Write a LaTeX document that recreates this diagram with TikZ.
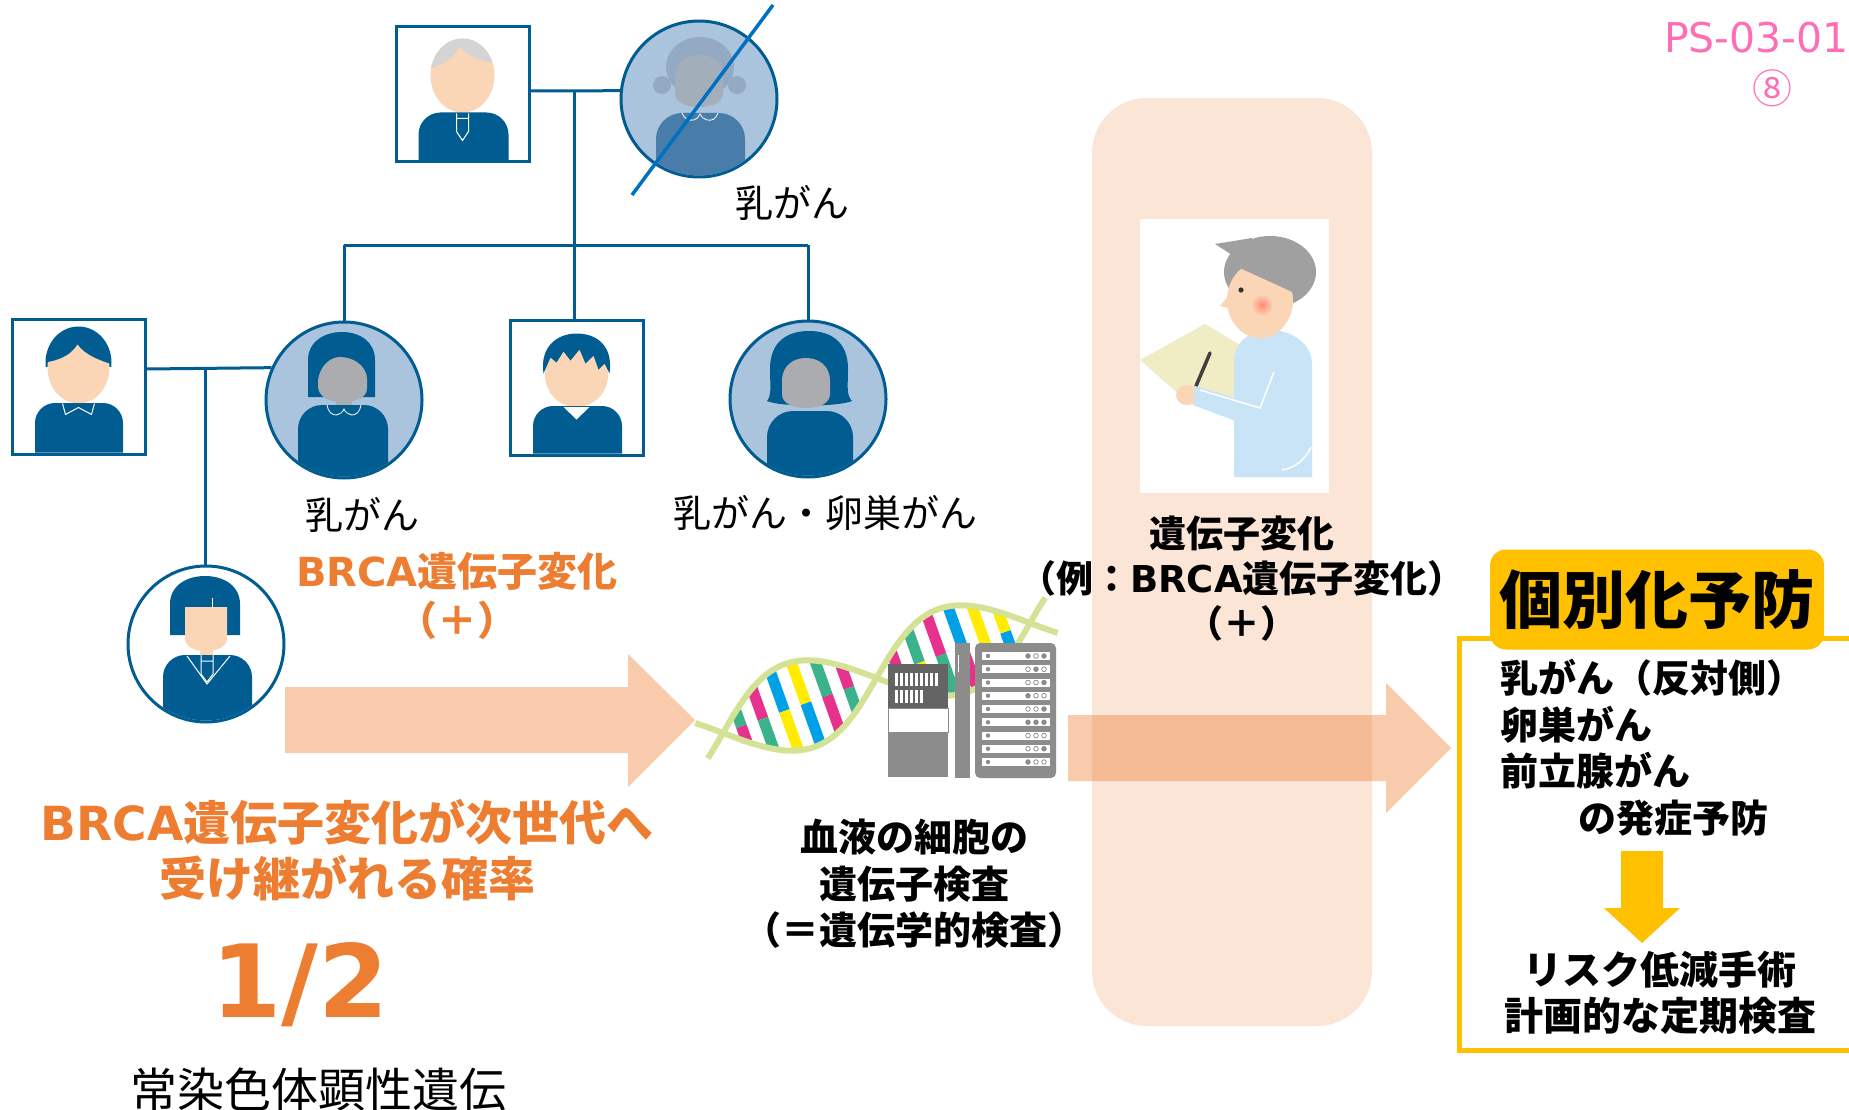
\documentclass[tikz,border=0pt]{standalone}
\usepackage{fontspec}
\setmainfont{Noto Sans CJK JP}
\newfontfamily\latinfont{DejaVu Sans}
\usetikzlibrary{calc}

\definecolor{icon}{RGB}{0,92,145}
\definecolor{ringfill}{RGB}{170,196,222}
\definecolor{skin}{RGB}{250,214,182}
\definecolor{face}{RGB}{170,172,176}
\definecolor{silver}{RGB}{212,212,212}
\definecolor{gmhair}{RGB}{148,170,195}
\definecolor{gmface}{RGB}{163,174,187}
\definecolor{gmbody}{RGB}{72,125,170}
\definecolor{accent}{RGB}{237,125,49}
\definecolor{peach}{RGB}{251,229,214}
\definecolor{gold}{RGB}{255,192,0}
\definecolor{pinktxt}{RGB}{255,110,180}
\definecolor{crossblue}{RGB}{0,112,192}
\definecolor{strand}{RGB}{212,226,150}
\definecolor{dnaM}{RGB}{230,50,140}
\definecolor{dnaG}{RGB}{60,178,140}
\definecolor{dnaB}{RGB}{0,160,230}
\definecolor{dnaY}{RGB}{255,236,0}
\definecolor{rack}{RGB}{140,140,140}
\definecolor{rackdk}{RGB}{100,100,100}
\definecolor{coat}{RGB}{200,228,246}
\definecolor{drhair}{RGB}{160,160,160}
\definecolor{board}{RGB}{240,236,196}

% rounded-shoulder torso: colour, left x, right x, top y, bottom y, corner radius
\newcommand\torso[6]{%
  \fill[#1] (#2,#5) -- (#2,#4+#6)
    .. controls (#2,#4+0.45*#6) and (#2+0.45*#6,#4) .. (#2+#6,#4)
    -- (#3-#6,#4)
    .. controls (#3-0.45*#6,#4) and (#3,#4+0.45*#6) .. (#3,#4+#6)
    -- (#3,#5) -- cycle;}

\newcommand\iconGrandpa{%
  \fill[skin] (0,-19) ellipse [x radius=32pt, y radius=37pt];
  \begin{scope}
    \clip (0,-19) ellipse [x radius=32pt, y radius=37pt];
    \fill[silver] (-40,-70) -- (-40,-25) .. controls (-22,-27) and (-8,-36) .. (-3,-48)
      .. controls (6,-38) and (20,-32) .. (40,-31) -- (40,-70) -- cycle;
  \end{scope}
  \torso{icon}{-44}{46}{18}{66}{22}
  \draw[white, line width=1] (-6,19) -- (-6,37) -- (0,46) -- (6,37) -- (6,19) (-6,24) -- (6,24);
}

\newcommand\iconHusband{%
  \begin{scope}
    \clip (-40,-70) rectangle (40,-20);
    \fill[icon] (0,-24) ellipse [x radius=33pt, y radius=36pt];
  \end{scope}
  \begin{scope}
    \clip (-40,-23) .. controls (-22,-25) and (-8,-30) .. (-1,-42)
      .. controls (6,-32) and (20,-26) .. (40,-20) -- (40,40) -- (-40,40) -- cycle;
    \fill[skin] (0,-19) ellipse [x radius=31pt, y radius=36pt];
  \end{scope}
  \torso{icon}{-43.5}{44.5}{16.5}{66}{20}
  \draw[white, line width=1] (-16,17) -- (-13,28) -- (0,21) -- (13,28) -- (16,17);
}

\newcommand\iconBrother{%
  \fill[skin] (0,-12.5) ellipse [x radius=31.5pt, y radius=32pt];
  \fill[icon] (-33,-14) .. controls (-37,-42) and (-18,-54) .. (0,-54)
    .. controls (20,-54) and (37,-42) .. (33,-14) -- (28,-24) -- (22,-18) -- (17,-32)
    -- (9,-24) -- (3,-38) -- (-6,-27) -- (-13,-36) -- (-20,-25) -- (-26,-30) -- cycle;
  \torso{icon}{-43.5}{45.5}{18.5}{66}{20}
  \fill[white] (-13,19.5) -- (0,32) -- (13,19.5) -- cycle;
}

\newcommand\iconDaughter{%
  \fill[icon] (-36,-9) -- (-36,-40) .. controls (-36,-58) and (-20,-68) .. (-1,-68)
    .. controls (18,-68) and (34,-58) .. (34,-40) -- (34,-9) -- cycle;
  \fill[skin] (-6,0) rectangle (7,14);
  \fill[skin] (-21,-37) -- (21,-37) -- (21,-6) .. controls (21,3) and (11,7) .. (0,7)
    .. controls (-11,7) and (-21,3) .. (-21,-6) -- cycle;
  \draw[white, line width=1] (6,-46) -- (6,-37);
  \torso{icon}{-43}{46}{11}{90}{22}
  \draw[white, line width=1] (-19,12) -- (1,40) -- (24,12);
  \draw[white, line width=1] (-5,11) -- (-5,30) -- (1,38) -- (7,30) -- (7,11) (-5,17) -- (7,17);
}

\newcommand\iconMother{%
  \fill[icon] (-36,-3) -- (-36,-40) .. controls (-36,-58) and (-20,-68) .. (-2,-68)
    .. controls (16,-68) and (31,-58) .. (31,-40) -- (31,-3) -- cycle;
  \fill[face] (-8,-6) rectangle (8,8);
  \fill[face] (-26,-20) .. controls (-24,-34) and (-14,-43) .. (-4,-43)
    .. controls (10,-43) and (22,-34) .. (23,-22) -- (23,-12) .. controls (23,-2) and (12,2) .. (-2,2)
    .. controls (-16,2) and (-26,-4) .. (-26,-14) -- cycle;
  \torso{icon}{-46}{44}{5}{90}{24}
  \draw[white, line width=0.8] (-17,5) .. controls (-16,12) and (-12,15) .. (-8,15)
    .. controls (-4,14) and (-1,12) .. (0,9) .. controls (1,12) and (4,14) .. (8,15)
    .. controls (12,15) and (16,12) .. (17,5);
}

\newcommand\iconAunt{%
  \fill[icon] (-41,2) .. controls (-36,-4) and (-38,-14) .. (-38,-30)
    .. controls (-38,-58) and (-20,-68) .. (1,-68) .. controls (22,-68) and (40,-58) .. (40,-30)
    .. controls (40,-14) and (38,-4) .. (44,2) .. controls (30,8) and (-28,8) .. (-41,2) -- cycle;
  \fill[face] (-26,-18) .. controls (-26,-34) and (-14,-41) .. (-2,-41)
    .. controls (10,-41) and (22,-34) .. (22,-18) -- (22,-5) .. controls (22,4) and (12,9) .. (-2,9)
    .. controls (-16,9) and (-26,4) .. (-26,-5) -- cycle;
  \torso{icon}{-41}{45}{12}{90}{26}
}

\newcommand\iconGrandma{%
  \fill[gmhair] (-37,-14) circle (9pt);
  \fill[gmhair] (38,-14) circle (9pt);
  \fill[gmhair] (1,-32) ellipse [x radius=34pt, y radius=30pt];
  \fill[gmface] (-24,-22) .. controls (-24,-38) and (-12,-44) .. (0,-44)
    .. controls (12,-44) and (24,-38) .. (24,-22) -- (24,-6) .. controls (24,4) and (12,8) .. (0,8)
    .. controls (-12,8) and (-24,4) .. (-24,-6) -- cycle;
  \torso{gmbody}{-43}{46}{14}{90}{26}
  \draw[white, line width=0.8] (-17,14) .. controls (-15,20) and (-10,22) .. (-5,21)
    .. controls (-2,20) and (0,18) .. (1,15) .. controls (2,18) and (5,20) .. (8,21)
    .. controls (13,22) and (17,20) .. (19,14);
}

\begin{document}
\begin{tikzpicture}[x=1pt, y=-1pt,
  sqframe/.style={draw=icon, line width=3pt, fill=white, minimum width=133pt, minimum height=135pt, inner sep=0pt},
  ring/.style={circle, draw=icon, line width=3pt, fill=ringfill, minimum size=156pt, inner sep=0pt},
  famline/.style={icon, line width=3pt},
  lbl/.style={inner sep=0pt, font=\fontsize{38}{46}\selectfont},
  boldtxt/.style={inner sep=0pt, align=center, font=\bfseries\fontsize{38}{46.5}\selectfont},
  orangetxt/.style={inner sep=0pt, align=center, text=accent},
  bigarrow/.style={fill=accent, opacity=0.4},
]
\useasboundingbox (0,0) rectangle (1849,1110);
\fill[white] (0,0) rectangle (1849,1110);

% ---- tall peach column behind the test result
\fill[peach, rounded corners=55pt] (1092,98) rectangle (1372,1026);

% ---- broad arrows
\fill[bigarrow] (285,687) -- (628,687) -- (628,654) -- (695,720) -- (628,787) -- (628,753) -- (285,753) -- cycle;
\fill[bigarrow] (1068,715) -- (1386,715) -- (1386,683) -- (1451,748) -- (1386,813) -- (1386,781) -- (1068,781) -- cycle;

% ---- DNA double helix
\foreach \t/\ca/\cb in {0.06/dnaG/dnaM, 0.13/dnaM/dnaG, 0.20/dnaB/dnaY, 0.27/dnaY/dnaB,
    0.34/dnaG/dnaM, 0.41/dnaM/dnaG, 0.57/dnaB/dnaM, 0.64/dnaY/dnaG, 0.71/dnaG/dnaM,
    0.78/dnaM/dnaB, 0.85/dnaY/dnaY, 0.92/dnaB/dnaY} {
  \draw[\ca, line width=11pt] ({723+307*\t},{733-110*\t}) -- ++({-14.83*sin(360*\t)},{-41.45*sin(360*\t)});
  \draw[\cb, line width=11pt] ({723+307*\t},{733-110*\t}) -- ++({14.83*sin(360*\t)},{41.45*sin(360*\t)});
}
\draw[strand, line width=6pt] plot[smooth, domain=-0.07:1.07, samples=60, variable=\u]
  ({723+307*\u-14.83*sin(360*\u)},{733-110*\u-41.45*sin(360*\u)});
\draw[strand, line width=6pt] plot[smooth, domain=-0.07:1.07, samples=60, variable=\u]
  ({723+307*\u+14.83*sin(360*\u)},{733-110*\u+41.45*sin(360*\u)});

% ---- sequencer and server rack
\fill[rackdk] (888,664) rectangle (948,708);
\foreach \i in {0,...,8} \fill[white] ({895+\i*5},673) rectangle ({898+\i*5},686);
\foreach \i in {0,...,5} \fill[white] ({895+\i*5},690) rectangle ({898+\i*5},703);
\filldraw[fill=white, draw=rack, line width=1pt] (888,708) rectangle (948,732);
\fill[rack] (888,732) rectangle (948,777);
\fill[rack] (955,643) rectangle (970,778);
\draw[white, line width=1pt] (958,655) -- (958,672);
\fill[rack, rounded corners=5pt] (975,643) rectangle (1056,778);
\foreach \k/\a/\b/\c in {0/rack/white/rack, 1/white/rack/white, 2/white/white/rack,
    3/rack/white/white, 4/white/white/rack, 5/rack/rack/rack, 6/white/white/white,
    7/white/white/rack, 8/rack/white/white} {
  \fill[white] (982,{652+\k*13.25}) rectangle (1050,{660+\k*13.25});
  \fill[rack] (988,{656+\k*13.25}) circle (2.2pt);
  \filldraw[draw=rack, fill=\a, line width=0.8pt] (1028,{656+\k*13.25}) circle (2.3pt);
  \filldraw[draw=rack, fill=\b, line width=0.8pt] (1036,{656+\k*13.25}) circle (2.3pt);
  \filldraw[draw=rack, fill=\c, line width=0.8pt] (1044,{656+\k*13.25}) circle (2.3pt);
}

% ---- genetic counsellor panel
\node[fill=white, minimum width=189pt, minimum height=274pt, inner sep=0pt] (panel) at (1234.5,356) {};
\fill[board] (1140,360) -- (1205,324) -- (1245,348) -- (1245,400) -- (1190,404) -- cycle;
\fill[coat] (1234,477) -- (1234,362) .. controls (1234,342) and (1250,330) .. (1270,330)
  .. controls (1292,330) and (1312,344) .. (1312,364) -- (1312,477) -- cycle;
\fill[drhair] (1270,272) ellipse [x radius=46pt, y radius=36pt];
\fill[drhair] (1215,244) -- (1252,238) -- (1246,264) -- cycle;
\begin{scope}
  \clip (1200,250) -- (1292,292) -- (1320,340) -- (1200,360) -- cycle;
  \fill[skin] (1260,300) ellipse [x radius=33pt, y radius=38pt];
\end{scope}
\fill[skin] (1230,294) -- (1220,306) -- (1232,309) -- cycle;
\shade[inner color=red!35!skin, outer color=skin] (1262,305) circle (11pt);
\fill[black!80] (1241,290) circle (2.6pt);
\draw[black!75, line width=3.5pt, line cap=round] (1210,353) -- (1196,386);
\fill[skin] (1187,395) ellipse [x radius=11pt, y radius=10pt];
\fill[coat] (1195,386) -- (1262,406) -- (1276,370) -- (1300,372) -- (1300,440) -- (1265,432) -- (1193,405) -- cycle;
\draw[white, line width=1.5pt] (1200,390) -- (1260,408) -- (1274,372);
\draw[white, line width=1.5pt] (1311,447) .. controls (1305,460) and (1295,468) .. (1282,470);

% ---- family members
\node[sqframe] (gf) at (462.5,94.5) {};
\node[ring] (gm) at (699,99) {};
\node[sqframe] (hb) at (78.5,386.5) {};
\node[ring] (mo) at (344,400) {};
\node[sqframe] (br) at (576.5,387.5) {};
\node[ring] (au) at (808,399) {};
\node[ring, fill=white] (dt) at (206,644) {};

\begin{scope}[shift={(gf.center)}] \iconGrandpa \end{scope}
\begin{scope}[shift={(hb.center)}] \iconHusband \end{scope}
\begin{scope}[shift={(br.center)}] \iconBrother \end{scope}
\begin{scope}[shift={(gm.center)}] \clip (0,0) circle (76.5pt); \iconGrandma \end{scope}
\begin{scope}[shift={(mo.center)}] \clip (0,0) circle (76.5pt); \iconMother \end{scope}
\begin{scope}[shift={(au.center)}] \clip (0,0) circle (76.5pt); \iconAunt \end{scope}
\begin{scope}[shift={(dt.center)}] \clip (0,0) circle (76.5pt); \iconDaughter \end{scope}
\draw[crossblue, line width=3.5pt] (632,195) -- (773,5);

% ---- pedigree lines
\coordinate (gp) at (574,91);
\coordinate (sb) at (574,245);
\coordinate (pp) at (205,369);
\draw[famline] (gf.east |- gp) -- (gm.174.1);
\draw[famline] (gp) -- (sb);
\draw[famline] (mo.north |- sb) -- (au.north |- sb);
\draw[famline] (mo.north |- sb) -- (mo.north);
\draw[famline] (sb) -- (sb |- br.north);
\draw[famline] (au.north |- sb) -- (au.north);
\draw[famline] (hb.east |- pp) -- (mo.156.6);
\draw[famline] (pp) -- (pp |- dt.north);

% ---- labels
\node[lbl] (l-gm) at (792,203) {乳がん};
\node[lbl] (l-mo) at (362,515) {乳がん};
\node[lbl] (l-au) at (825,513) {乳がん・卵巣がん};
\node[orangetxt, font=\bfseries\fontsize{40}{49}\selectfont] (l-brca) at (457,596) {{\latinfont BRCA}遺伝子変化\\（＋）};
\node[orangetxt, font=\bfseries\fontsize{47}{56}\selectfont] (l-prob) at (347,850) {{\latinfont BRCA}遺伝子変化が次世代へ\\受け継がれる確率};
\node[orangetxt, anchor=base, font=\latinfont\bfseries\fontsize{101}{110}\selectfont] (l-half) at (300,1017) {1/2};
\node[inner sep=0pt, font=\fontsize{47}{56}\selectfont] (l-ad) at (318,1090) {常染色体顕性遺伝};
\node[boldtxt] (l-test) at (914,884) {血液の細胞の\\遺伝子検査\\（＝遺伝学的検査）};
\node[boldtxt, font=\bfseries\fontsize{37}{45}\selectfont] (l-var) at (1242,579) {遺伝子変化\\（例：{\latinfont BRCA}遺伝子変化）\\（＋）};

% ---- personalised prevention box
\draw[gold, line width=5pt] (1860,638) -- (1459,638) -- (1459,1050) -- (1860,1050);
\node[fill=gold, rounded corners=16pt, minimum width=334pt, minimum height=100pt, inner sep=0pt,
  font=\bfseries\fontsize{63}{70}\selectfont] (tab) at (1657,599.5) {個別化予防};
\node[boldtxt, align=left, anchor=west] (l-prev) at (1500,747.5)
  {乳がん（反対側）\\卵巣がん\\前立腺がん\\\hspace*{2.05em}の発症予防};
\fill[gold] (1621,851) -- (1663,851) -- (1663,908) -- (1680,908) -- (1642,943) -- (1604,908) -- (1621,908) -- cycle;
\node[boldtxt, font=\bfseries\fontsize{39}{46}\selectfont] (l-surg) at (1660,993) {リスク低減手術\\計画的な定期検査};

% ---- poster tag
\node[anchor=base west, inner sep=0pt, text=pinktxt, font=\latinfont\fontsize{41}{48}\selectfont] (tag) at (1664,53) {PS-03-01};
\node[inner sep=0pt, text=pinktxt, font=\fontsize{40}{44}\selectfont] (tagnum) at (1772,88) {⑧};
\end{tikzpicture}
\end{document}
